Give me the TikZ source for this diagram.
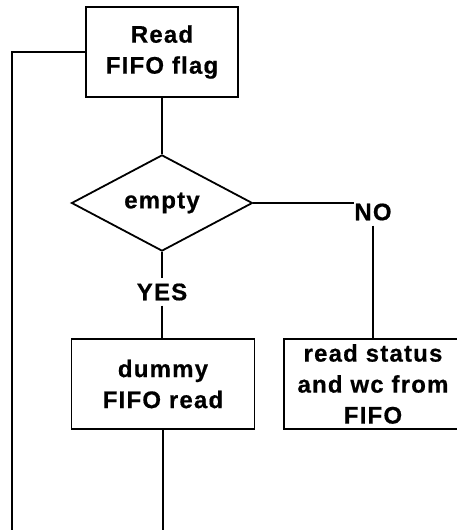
\documentclass[tikz,border=0pt]{standalone}
\usepackage{fontspec}
\setmainfont{Liberation Sans}[LetterSpace=5, BoldFont={Liberation Sans Bold}, BoldFeatures={FakeBold=0.6}]
\usetikzlibrary{shapes.geometric}
\begin{document}
\begin{tikzpicture}[x=1pt,y=-1pt,
  every node/.style={font=\fontsize{24}{31}\selectfont\bfseries, align=center},
  procbox/.style={draw, line width=1.8pt, rectangle, inner sep=0pt},
  decision/.style={draw, line width=1.8pt, diamond, inner sep=0pt, minimum width=181pt, minimum height=89pt},
  label/.style={inner xsep=0pt, inner ysep=5pt},
  flow/.style={line width=1.8pt}]
\useasboundingbox (0,0) rectangle (457,530);

\node[procbox, minimum width=152pt, minimum height=90pt] (read) at (162,52) {Read\\FIFO flag};
\node[decision] (empty) at (162,203) {empty};
\node[label] (no) at (373,212) {NO};
\node[label] (yes) at (162,292) {YES};
\node[procbox, minimum width=183pt, minimum height=90pt] (dummy) at (163,384) {dummy\\FIFO read};
\node[procbox, minimum width=178pt, minimum height=90pt] (status) at (373,384) {read status\\and wc from\\FIFO};

\coordinate (loopend) at (12,530);
\coordinate (dummyend) at (163,530);

\draw[flow] (read.south) -- (empty.north);
\draw[flow] (empty.east) -- (empty.east -| no.west);
\draw[flow] (no.south) -- (status.north);
\draw[flow] (empty.south) -- (yes.north);
\draw[flow] (yes.south) -- (yes.south |- dummy.north);
\draw[flow] (dummy.south) -- (dummyend);
\draw[flow] (read.west) -| (loopend);
\end{tikzpicture}
\end{document}
